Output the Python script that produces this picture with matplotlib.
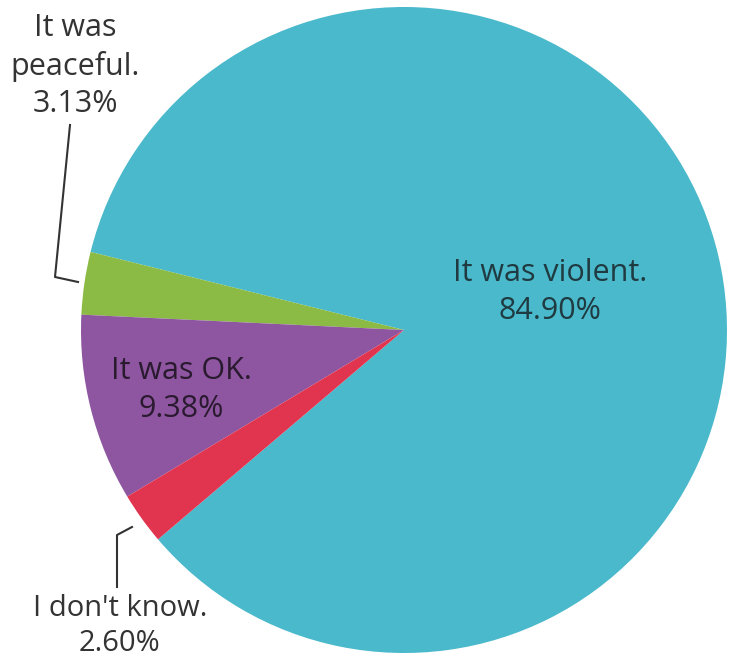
import matplotlib
matplotlib.use('Agg')
import matplotlib.pyplot as plt

labels = ['It was violent.', 'It was peaceful.', 'It was OK.', "I don't know."]
values = [84.90, 3.13, 9.38, 2.60]
colors = ['#4ab9cb', '#8bbb45', '#8e56a0', '#e1344f']

W, H = 735, 663
fig = plt.figure(figsize=(W / 100, H / 100), dpi=100)
ax = fig.add_axes([0, 0, 1, 1])

# pie center / radius in pixel space (y measured from bottom)
cx, cy, R = 404, H - 330, 323
ax.pie(values, colors=colors, startangle=220.4, counterclock=True,
       center=(cx, cy), radius=R, frame=True,
       wedgeprops=dict(linewidth=0))
ax.set_xlim(0, W)
ax.set_ylim(0, H)
ax.set_aspect('equal')
ax.axis('off')

plt.rcParams['font.family'] = ['Open Sans', 'DejaVu Sans']
fs = 22
ls = 1.32
def img(y):
    return H - y

ax.text(550, img(292), 'It was violent.\n%.2f%%' % values[0], ha='center', va='center',
        fontsize=fs, color='#1f3a40', linespacing=ls)
ax.text(181, img(390), 'It was OK.\n%.2f%%' % values[2], ha='center', va='center',
        fontsize=fs, color='#2a1a30', linespacing=ls)
ax.text(75, img(66), 'It was\npeaceful.\n%.2f%%' % values[1], ha='center', va='center',
        fontsize=fs, color='#333333', linespacing=ls)
ax.text(120, img(626), "I don't know.\n%.2f%%" % values[3], ha='center', va='center',
        fontsize=21, color='#333333', linespacing=1.25)

# leader lines
ax.plot([70, 55, 78], [img(125), img(277), img(282)], color='#333333', lw=1.5)
ax.plot([117, 117, 132], [img(587), img(535), img(527)], color='#333333', lw=1.5)

fig.savefig('out.png', dpi=100)
